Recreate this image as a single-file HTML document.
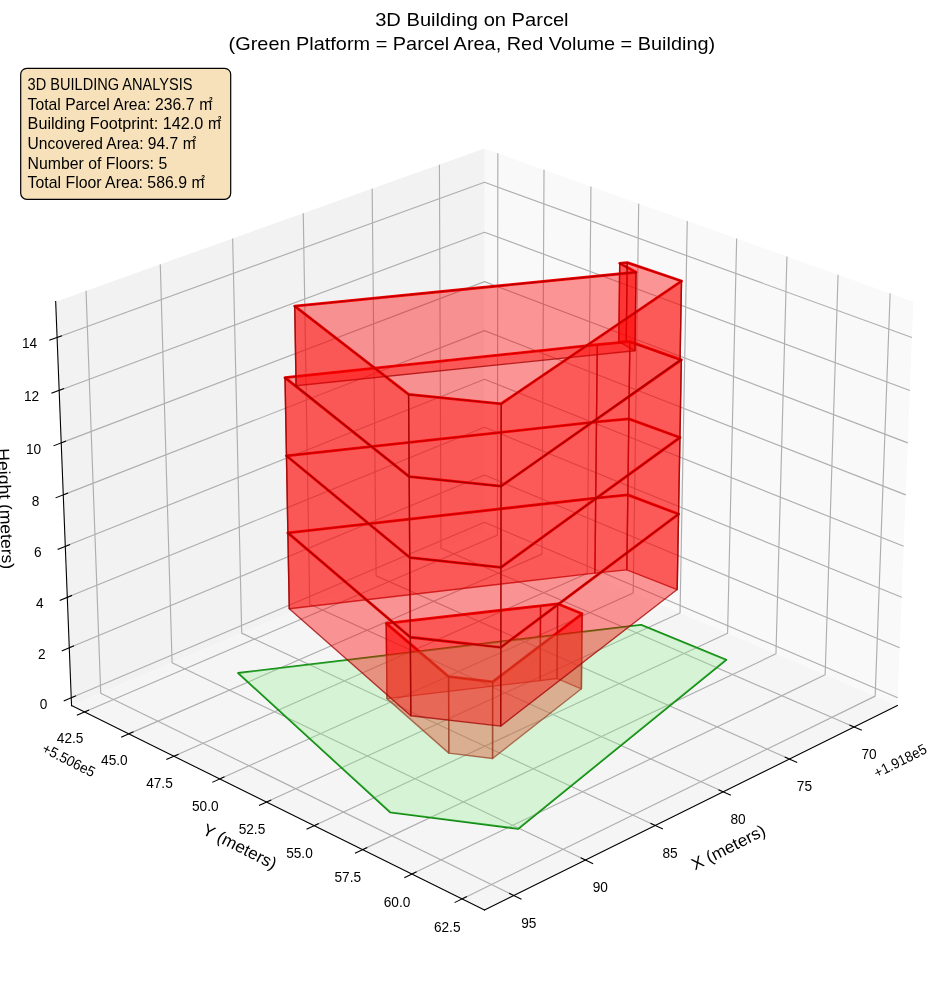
<!DOCTYPE html>
<html><head><meta charset="utf-8"><title>3D Building on Parcel</title>
<style>html,body{margin:0;padding:0;background:#fff}body{width:944px;height:992px;overflow:hidden}</style></head>
<body>
<svg width="944" height="992" viewBox="0 0 944 992" style="display:block;will-change:transform;font-family:'Liberation Sans',sans-serif">
<rect width="944" height="992" fill="#fff"/>
<polygon points="484.50,529.69 897.45,705.60 913.33,301.63 484.50,148.58" fill="#f9f9f9"/>
<polygon points="484.50,529.69 71.55,705.60 55.67,301.63 484.50,148.58" fill="#f2f2f2"/>
<polygon points="484.50,529.69 71.55,705.60 484.50,910.00 897.45,705.60" fill="#f5f5f5"/>
<g fill="none" stroke="#aeaeae" stroke-width="1.15" stroke-linejoin="round">
<polyline points="854.15,727.04 440.98,548.23 439.42,164.67"/>
<polyline points="789.50,759.03 376.11,575.86 372.16,188.68"/>
<polyline points="723.21,791.84 309.70,604.15 303.26,213.27"/>
<polyline points="655.22,825.50 241.71,633.12 232.65,238.47"/>
<polyline points="585.45,860.03 172.07,662.78 160.27,264.30"/>
<polyline points="513.83,895.48 100.73,693.18 86.04,290.79"/>
<polyline points="84.36,711.94 497.38,535.17 497.84,153.34"/>
<polyline points="128.71,733.90 541.94,554.15 544.01,169.82"/>
<polyline points="173.84,756.23 587.22,573.45 590.95,186.58"/>
<polyline points="219.76,778.96 633.24,593.05 638.70,203.62"/>
<polyline points="266.50,802.10 680.03,612.98 687.26,220.95"/>
<polyline points="314.08,825.65 727.59,633.25 736.66,238.58"/>
<polyline points="362.53,849.63 775.96,653.85 786.93,256.52"/>
<polyline points="411.86,874.04 825.14,674.80 838.07,274.77"/>
<polyline points="462.10,898.91 875.16,696.11 890.13,293.35"/>
<polyline points="71.25,697.83 484.50,522.33 897.75,697.83"/>
<polyline points="69.28,647.82 484.50,475.04 899.72,647.82"/>
<polyline points="67.30,597.32 484.50,427.33 901.70,597.32"/>
<polyline points="65.29,546.34 484.50,379.20 903.71,546.34"/>
<polyline points="63.27,494.87 484.50,330.63 905.73,494.87"/>
<polyline points="61.23,442.90 484.50,281.62 907.77,442.90"/>
<polyline points="59.16,390.42 484.50,232.17 909.84,390.42"/>
<polyline points="57.08,337.43 484.50,182.27 911.92,337.43"/>
</g>
<polygon points="238.10,673.00 641.10,624.90 726.30,659.80 518.30,828.80 390.20,812.30" fill="none" stroke="#0a860a" stroke-width="1.85" stroke-linejoin="round"/>
<g fill="none" stroke="#ff0000" stroke-width="2.8" stroke-linejoin="round">
<polygon points="386.25,623.39 540.55,605.80 557.61,603.77 582.10,613.80 492.63,681.86 448.57,676.67"/>
<polygon points="287.87,532.83 595.70,498.07 627.84,494.91 678.57,514.06 500.82,647.33 410.31,637.25"/>
<polygon points="286.45,455.78 596.49,421.92 628.85,418.85 679.96,437.50 500.94,567.38 409.75,557.54"/>
<polygon points="285.01,377.62 597.29,344.68 629.89,341.69 681.37,359.83 501.06,486.20 409.18,476.63"/>
<polygon points="294.71,306.17 636.04,272.24 619.73,263.32 627.26,262.58 681.51,281.04 501.19,403.77 408.61,394.47"/>
</g>
<polygon points="594.92,573.15 626.83,569.91 627.84,494.91 595.70,498.07" fill="#ff0000" fill-opacity="0.4" stroke="#a00000" stroke-opacity="0.75" stroke-width="1.4" stroke-linejoin="round"/>
<polygon points="540.15,680.60 557.09,678.53 557.61,603.77 540.55,605.80" fill="#ff0000" fill-opacity="0.4" stroke="#a00000" stroke-opacity="0.75" stroke-width="1.4" stroke-linejoin="round"/>
<polygon points="626.83,569.91 677.20,589.54 678.57,514.06 627.84,494.91" fill="#ff0000" fill-opacity="0.4" stroke="#a00000" stroke-opacity="0.75" stroke-width="1.4" stroke-linejoin="round"/>
<polygon points="595.70,498.07 627.84,494.91 628.85,418.85 596.49,421.92" fill="#ff0000" fill-opacity="0.4" stroke="#a00000" stroke-opacity="0.75" stroke-width="1.4" stroke-linejoin="round"/>
<polygon points="557.09,678.53 581.40,688.80 582.10,613.80 557.61,603.77" fill="#ff0000" fill-opacity="0.4" stroke="#a00000" stroke-opacity="0.75" stroke-width="1.4" stroke-linejoin="round"/>
<polygon points="386.95,698.61 540.15,680.60 540.55,605.80 386.25,623.39" fill="#ff0000" fill-opacity="0.4" stroke="#a00000" stroke-opacity="0.75" stroke-width="1.4" stroke-linejoin="round"/>
<polygon points="627.84,494.91 678.57,514.06 679.96,437.50 628.85,418.85" fill="#ff0000" fill-opacity="0.4" stroke="#a00000" stroke-opacity="0.75" stroke-width="1.4" stroke-linejoin="round"/>
<polygon points="596.49,421.92 628.85,418.85 629.89,341.69 597.29,344.68" fill="#ff0000" fill-opacity="0.4" stroke="#a00000" stroke-opacity="0.75" stroke-width="1.4" stroke-linejoin="round"/>
<polygon points="289.27,608.78 594.92,573.15 595.70,498.07 287.87,532.83" fill="#ff0000" fill-opacity="0.4" stroke="#a00000" stroke-opacity="0.75" stroke-width="1.4" stroke-linejoin="round"/>
<polygon points="618.77,341.58 626.24,340.82 627.26,262.58 619.73,263.32" fill="#ff0000" fill-opacity="0.4" stroke="#a00000" stroke-opacity="0.75" stroke-width="1.4" stroke-linejoin="round"/>
<polygon points="628.85,418.85 679.96,437.50 681.37,359.83 629.89,341.69" fill="#ff0000" fill-opacity="0.4" stroke="#a00000" stroke-opacity="0.75" stroke-width="1.4" stroke-linejoin="round"/>
<polygon points="287.87,532.83 595.70,498.07 596.49,421.92 286.45,455.78" fill="#ff0000" fill-opacity="0.4" stroke="#a00000" stroke-opacity="0.75" stroke-width="1.4" stroke-linejoin="round"/>
<polygon points="634.96,350.77 618.77,341.58 619.73,263.32 636.04,272.24" fill="#ff0000" fill-opacity="0.4" stroke="#a00000" stroke-opacity="0.75" stroke-width="1.4" stroke-linejoin="round"/>
<polygon points="626.24,340.82 680.09,359.84 681.51,281.04 627.26,262.58" fill="#ff0000" fill-opacity="0.4" stroke="#a00000" stroke-opacity="0.75" stroke-width="1.4" stroke-linejoin="round"/>
<polygon points="286.45,455.78 596.49,421.92 597.29,344.68 285.01,377.62" fill="#ff0000" fill-opacity="0.4" stroke="#a00000" stroke-opacity="0.75" stroke-width="1.4" stroke-linejoin="round"/>
<polygon points="448.83,753.13 386.95,698.61 386.25,623.39 448.57,676.67" fill="#ff0000" fill-opacity="0.4" stroke="#a00000" stroke-opacity="0.75" stroke-width="1.4" stroke-linejoin="round"/>
<polygon points="581.40,688.80 492.57,758.45 492.63,681.86 582.10,613.80" fill="#ff0000" fill-opacity="0.4" stroke="#a00000" stroke-opacity="0.75" stroke-width="1.4" stroke-linejoin="round"/>
<polygon points="492.57,758.45 448.83,753.13 448.57,676.67 492.63,681.86" fill="#ff0000" fill-opacity="0.4" stroke="#a00000" stroke-opacity="0.75" stroke-width="1.4" stroke-linejoin="round"/>
<polygon points="296.09,385.72 634.96,350.77 636.04,272.24 294.71,306.17" fill="#ff0000" fill-opacity="0.4" stroke="#a00000" stroke-opacity="0.75" stroke-width="1.4" stroke-linejoin="round"/>
<polygon points="238.10,673.00 641.10,624.90 726.30,659.80 518.30,828.80 390.20,812.30" fill="#90ee90" fill-opacity="0.3" stroke="none"/>
<polygon points="410.86,715.77 289.27,608.78 287.87,532.83 410.31,637.25" fill="#ff0000" fill-opacity="0.4" stroke="#a00000" stroke-opacity="0.75" stroke-width="1.4" stroke-linejoin="round"/>
<polygon points="677.20,589.54 500.69,726.10 500.82,647.33 678.57,514.06" fill="#ff0000" fill-opacity="0.4" stroke="#a00000" stroke-opacity="0.75" stroke-width="1.4" stroke-linejoin="round"/>
<polygon points="500.69,726.10 410.86,715.77 410.31,637.25 500.82,647.33" fill="#ff0000" fill-opacity="0.4" stroke="#a00000" stroke-opacity="0.75" stroke-width="1.4" stroke-linejoin="round"/>
<polygon points="410.31,637.25 287.87,532.83 286.45,455.78 409.75,557.54" fill="#ff0000" fill-opacity="0.4" stroke="#a00000" stroke-opacity="0.75" stroke-width="1.4" stroke-linejoin="round"/>
<polygon points="678.57,514.06 500.82,647.33 500.94,567.38 679.96,437.50" fill="#ff0000" fill-opacity="0.4" stroke="#a00000" stroke-opacity="0.75" stroke-width="1.4" stroke-linejoin="round"/>
<polygon points="500.82,647.33 410.31,637.25 409.75,557.54 500.94,567.38" fill="#ff0000" fill-opacity="0.4" stroke="#a00000" stroke-opacity="0.75" stroke-width="1.4" stroke-linejoin="round"/>
<polygon points="409.75,557.54 286.45,455.78 285.01,377.62 409.18,476.63" fill="#ff0000" fill-opacity="0.4" stroke="#a00000" stroke-opacity="0.75" stroke-width="1.4" stroke-linejoin="round"/>
<polygon points="679.96,437.50 500.94,567.38 501.06,486.20 681.37,359.83" fill="#ff0000" fill-opacity="0.4" stroke="#a00000" stroke-opacity="0.75" stroke-width="1.4" stroke-linejoin="round"/>
<polygon points="500.94,567.38 409.75,557.54 409.18,476.63 501.06,486.20" fill="#ff0000" fill-opacity="0.4" stroke="#a00000" stroke-opacity="0.75" stroke-width="1.4" stroke-linejoin="round"/>
<polygon points="409.18,476.63 296.09,385.72 294.71,306.17 408.61,394.47" fill="#ff0000" fill-opacity="0.4" stroke="#a00000" stroke-opacity="0.75" stroke-width="1.4" stroke-linejoin="round"/>
<polygon points="680.09,359.84 501.06,486.20 501.19,403.77 681.51,281.04" fill="#ff0000" fill-opacity="0.4" stroke="#a00000" stroke-opacity="0.75" stroke-width="1.4" stroke-linejoin="round"/>
<polygon points="501.06,486.20 409.18,476.63 408.61,394.47 501.19,403.77" fill="#ff0000" fill-opacity="0.4" stroke="#a00000" stroke-opacity="0.75" stroke-width="1.4" stroke-linejoin="round"/>
<g fill="none" stroke="#000" stroke-width="1.1" stroke-linecap="square">
<polyline points="897.45,705.60 484.50,910.00"/>
<polyline points="71.55,705.60 484.50,910.00"/>
<polyline points="71.55,705.60 55.67,301.63"/>
<polyline points="861.28,730.12 849.87,725.19"/>
<polyline points="796.65,762.20 785.22,757.14"/>
<polyline points="730.37,795.09 718.93,789.90"/>
<polyline points="662.38,828.83 650.93,823.51"/>
<polyline points="592.61,863.45 581.16,857.99"/>
<polyline points="520.99,898.99 509.54,893.38"/>
<polyline points="77.35,714.94 88.59,710.13"/>
<polyline points="121.69,736.95 132.95,732.05"/>
<polyline points="166.81,759.34 178.08,754.36"/>
<polyline points="212.73,782.13 224.00,777.06"/>
<polyline points="259.47,805.32 270.75,800.16"/>
<polyline points="307.04,828.93 318.33,823.67"/>
<polyline points="355.48,852.96 366.78,847.62"/>
<polyline points="404.81,877.44 416.11,872.00"/>
<polyline points="455.05,902.37 466.35,896.83"/>
<polyline points="64.23,700.81 75.48,696.04"/>
<polyline points="62.23,650.75 73.53,646.05"/>
<polyline points="60.21,600.21 71.57,595.58"/>
<polyline points="58.17,549.18 69.59,544.63"/>
<polyline points="56.11,497.66 67.59,493.19"/>
<polyline points="54.03,445.64 65.57,441.24"/>
<polyline points="51.93,393.11 63.53,388.80"/>
<polyline points="49.81,340.07 61.47,335.84"/>
</g>
<text x="869.05" y="759.26" font-size="14.60" text-anchor="middle" textLength="15.2" lengthAdjust="spacingAndGlyphs">70</text>
<text x="804.40" y="791.26" font-size="14.60" text-anchor="middle" textLength="15.2" lengthAdjust="spacingAndGlyphs">75</text>
<text x="738.11" y="824.07" font-size="14.60" text-anchor="middle" textLength="15.2" lengthAdjust="spacingAndGlyphs">80</text>
<text x="670.12" y="857.72" font-size="14.60" text-anchor="middle" textLength="15.2" lengthAdjust="spacingAndGlyphs">85</text>
<text x="600.35" y="892.26" font-size="14.60" text-anchor="middle" textLength="15.2" lengthAdjust="spacingAndGlyphs">90</text>
<text x="528.73" y="927.71" font-size="14.60" text-anchor="middle" textLength="15.2" lengthAdjust="spacingAndGlyphs">95</text>
<text x="70.16" y="742.87" font-size="14.60" text-anchor="middle" textLength="26.6" lengthAdjust="spacingAndGlyphs">42.5</text>
<text x="114.42" y="765.08" font-size="14.60" text-anchor="middle" textLength="26.6" lengthAdjust="spacingAndGlyphs">45.0</text>
<text x="159.46" y="787.68" font-size="14.60" text-anchor="middle" textLength="26.6" lengthAdjust="spacingAndGlyphs">47.5</text>
<text x="205.30" y="810.67" font-size="14.60" text-anchor="middle" textLength="26.6" lengthAdjust="spacingAndGlyphs">50.0</text>
<text x="251.95" y="834.07" font-size="14.60" text-anchor="middle" textLength="26.6" lengthAdjust="spacingAndGlyphs">52.5</text>
<text x="299.45" y="857.88" font-size="14.60" text-anchor="middle" textLength="26.6" lengthAdjust="spacingAndGlyphs">55.0</text>
<text x="347.80" y="882.13" font-size="14.60" text-anchor="middle" textLength="26.6" lengthAdjust="spacingAndGlyphs">57.5</text>
<text x="397.05" y="906.80" font-size="14.60" text-anchor="middle" textLength="26.6" lengthAdjust="spacingAndGlyphs">60.0</text>
<text x="447.20" y="931.93" font-size="14.60" text-anchor="middle" textLength="26.6" lengthAdjust="spacingAndGlyphs">62.5</text>
<text x="43.65" y="708.75" font-size="14.60" text-anchor="middle" textLength="7.6" lengthAdjust="spacingAndGlyphs">0</text>
<text x="41.68" y="658.74" font-size="14.60" text-anchor="middle" textLength="7.6" lengthAdjust="spacingAndGlyphs">2</text>
<text x="39.70" y="608.24" font-size="14.60" text-anchor="middle" textLength="7.6" lengthAdjust="spacingAndGlyphs">4</text>
<text x="37.69" y="557.26" font-size="14.60" text-anchor="middle" textLength="7.6" lengthAdjust="spacingAndGlyphs">6</text>
<text x="35.67" y="505.79" font-size="14.60" text-anchor="middle" textLength="7.6" lengthAdjust="spacingAndGlyphs">8</text>
<text x="33.63" y="453.82" font-size="14.60" text-anchor="middle" textLength="15.2" lengthAdjust="spacingAndGlyphs">10</text>
<text x="31.56" y="401.34" font-size="14.60" text-anchor="middle" textLength="15.2" lengthAdjust="spacingAndGlyphs">12</text>
<text x="29.48" y="348.35" font-size="14.60" text-anchor="middle" textLength="15.2" lengthAdjust="spacingAndGlyphs">14</text>
<text x="66.50" y="764.62" font-size="14.60" text-anchor="middle" transform="rotate(26.80 66.50 764.62)" textLength="57.0" lengthAdjust="spacingAndGlyphs">+5.506e5</text>
<text x="902.50" y="765.32" font-size="14.60" text-anchor="middle" transform="rotate(-26.80 902.50 765.32)" textLength="57.0" lengthAdjust="spacingAndGlyphs">+1.918e5</text>
<text x="237.30" y="851.68" font-size="16.80" text-anchor="middle" transform="rotate(26.80 237.30 851.68)" textLength="80.5" lengthAdjust="spacingAndGlyphs">Y (meters)</text>
<text x="731.00" y="852.48" font-size="16.80" text-anchor="middle" transform="rotate(-26.80 731.00 852.48)" textLength="80.5" lengthAdjust="spacingAndGlyphs">X (meters)</text>
<text x="-0.15" y="509.00" font-size="16.80" text-anchor="middle" transform="rotate(87.75 -0.15 509.00)" textLength="121.0" lengthAdjust="spacingAndGlyphs">Height (meters)</text>
<text x="471.90" y="25.50" font-size="19.00" text-anchor="middle" textLength="193.4" lengthAdjust="spacingAndGlyphs">3D Building on Parcel</text>
<text x="471.90" y="49.50" font-size="19.00" text-anchor="middle" textLength="486.6" lengthAdjust="spacingAndGlyphs">(Green Platform = Parcel Area, Red Volume = Building)</text>
<rect x="20.7" y="68.4" width="210" height="130.9" rx="6" ry="6" fill="#f5deb3" fill-opacity="0.9" stroke="#000" stroke-width="1.2"/>
<text x="27.60" y="89.80" font-size="15.90" text-anchor="start" textLength="165.0" lengthAdjust="spacingAndGlyphs">3D BUILDING ANALYSIS</text>
<text x="27.60" y="109.50" font-size="15.90" text-anchor="start" textLength="166.8" lengthAdjust="spacingAndGlyphs">Total Parcel Area: 236.7</text>
<text x="199.3" y="109.50" font-size="15.9" textLength="12.9" lengthAdjust="spacingAndGlyphs">m</text>
<text x="209.1" y="101.50" font-size="6.6" font-weight="bold">2</text>
<text x="27.60" y="129.10" font-size="15.90" text-anchor="start" textLength="175.7" lengthAdjust="spacingAndGlyphs">Building Footprint: 142.0</text>
<text x="207.9" y="129.10" font-size="15.9" textLength="12.9" lengthAdjust="spacingAndGlyphs">m</text>
<text x="217.7" y="121.10" font-size="6.6" font-weight="bold">2</text>
<text x="27.60" y="148.80" font-size="15.90" text-anchor="start" textLength="150.5" lengthAdjust="spacingAndGlyphs">Uncovered Area: 94.7</text>
<text x="182.8" y="148.80" font-size="15.9" textLength="12.9" lengthAdjust="spacingAndGlyphs">m</text>
<text x="192.6" y="140.80" font-size="6.6" font-weight="bold">2</text>
<text x="27.60" y="168.60" font-size="15.90" text-anchor="start" textLength="139.6" lengthAdjust="spacingAndGlyphs">Number of Floors: 5</text>
<text x="27.60" y="187.80" font-size="15.90" text-anchor="start" textLength="159.4" lengthAdjust="spacingAndGlyphs">Total Floor Area: 586.9</text>
<text x="191.4" y="187.80" font-size="15.9" textLength="12.9" lengthAdjust="spacingAndGlyphs">m</text>
<text x="201.2" y="179.80" font-size="6.6" font-weight="bold">2</text>
</svg>
</body></html>
